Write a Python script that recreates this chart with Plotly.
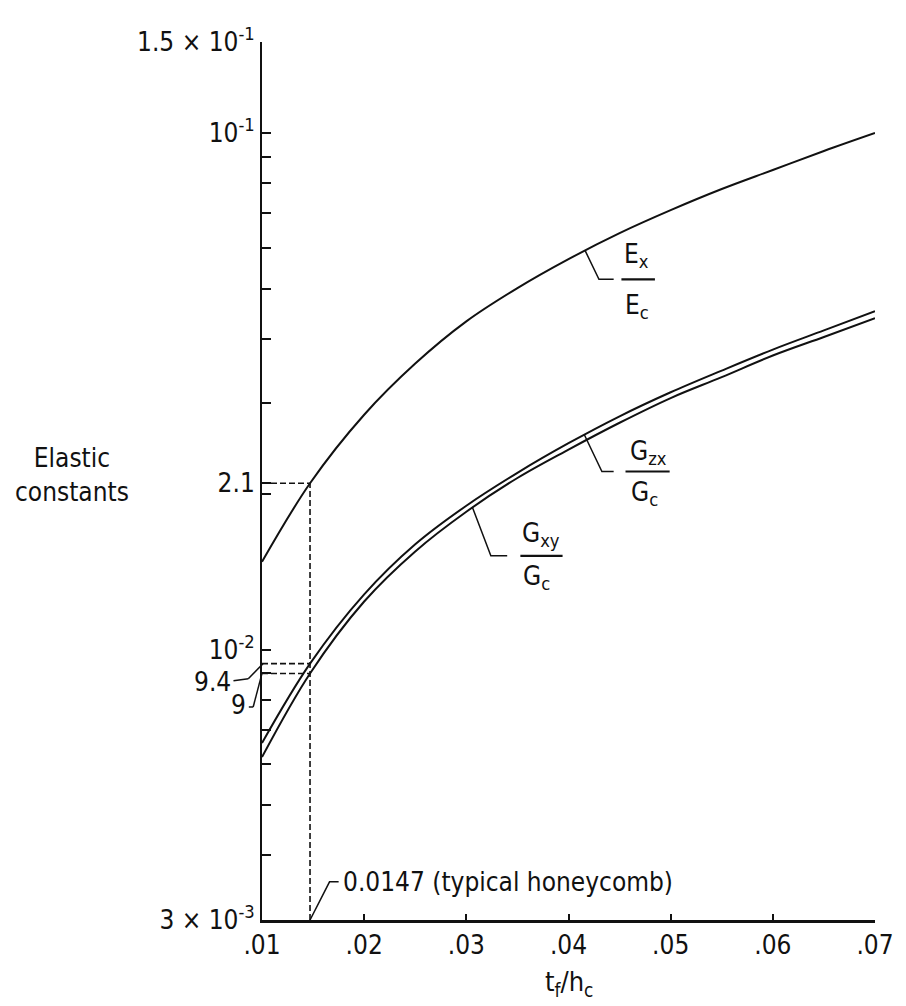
import numpy as np
import plotly.graph_objects as go

# ---- data ----
x_vals = [0.010, 0.0147, 0.020, 0.025, 0.030, 0.035, 0.040, 0.045, 0.050, 0.055, 0.060, 0.065, 0.070]
ex_ec = [0.0148, 0.0210, 0.0285, 0.0358, 0.0432, 0.0501, 0.0570, 0.0640, 0.0709, 0.0779, 0.0848, 0.0923, 0.1000]
gzx_gc = [0.0066, 0.0094, 0.0128, 0.0160, 0.0190, 0.0220, 0.0251, 0.0283, 0.0315, 0.0347, 0.0381, 0.0415, 0.0452]
gxy_gc = [0.0062, 0.0090, 0.0124, 0.0155, 0.0185, 0.0215, 0.0244, 0.0275, 0.0307, 0.0337, 0.0371, 0.0403, 0.0438]

typical_tf = 0.0147
marked_vals = [0.021, 0.0094, 0.009]

x_ticks = [0.01, 0.02, 0.03, 0.04, 0.05, 0.06, 0.07]
x_ticktext = [".01", ".02", ".03", ".04", ".05", ".06", ".07"]

y_ticks = [0.003, 0.004, 0.005, 0.006, 0.007, 0.008, 0.009, 0.01,
           0.02, 0.021, 0.03, 0.04, 0.05, 0.06, 0.07, 0.08, 0.09, 0.1, 0.15]
y_labels = {0.003: "3 × 10<sup>-3</sup>", 0.01: "10<sup>-2</sup>", 0.021: "2.1",
            0.1: "10<sup>-1</sup>", 0.15: "1.5 × 10<sup>-1</sup>"}
y_ticktext = [y_labels.get(v, "") for v in y_ticks]

FONT = "DejaVu Sans Condensed, Liberation Sans Narrow, DejaVu Sans, sans-serif"
BLACK = "#111111"

fig = go.Figure()

curve_style = dict(color=BLACK, width=2, shape="spline", smoothing=1.0)
fig.add_trace(go.Scatter(x=x_vals, y=ex_ec, mode="lines", line=curve_style))
fig.add_trace(go.Scatter(x=x_vals, y=gzx_gc, mode="lines", line=curve_style))
fig.add_trace(go.Scatter(x=x_vals, y=gxy_gc, mode="lines", line=curve_style))

dash_style = dict(color=BLACK, width=1.6, dash="6px,3px")
fig.add_trace(go.Scatter(x=[typical_tf, typical_tf], y=[0.003, marked_vals[0]],
                         mode="lines", line=dash_style))
for v in marked_vals:
    fig.add_trace(go.Scatter(x=[0.01, typical_tf], y=[v, v], mode="lines", line=dash_style))

lead = dict(color=BLACK, width=1.5)
bar = dict(color=BLACK, width=2.2)
# leaders and fraction bars of the curve labels
fig.add_trace(go.Scatter(x=[0.04163, 0.04298, 0.04442], y=[0.0592, 0.0521, 0.0521],
                         mode="lines", line=lead))
fig.add_trace(go.Scatter(x=[0.04518, 0.04846], y=[0.0521, 0.0521], mode="lines", line=bar))
fig.add_trace(go.Scatter(x=[0.04154, 0.04327, 0.04442], y=[0.0261, 0.02213, 0.02213],
                         mode="lines", line=lead))
fig.add_trace(go.Scatter(x=[0.04558, 0.0499], y=[0.02213, 0.02213], mode="lines", line=bar))
fig.add_trace(go.Scatter(x=[0.03058, 0.0324, 0.0340], y=[0.0189, 0.0152, 0.0152],
                         mode="lines", line=lead))
fig.add_trace(go.Scatter(x=[0.03529, 0.03942], y=[0.0152, 0.0152], mode="lines", line=bar))
# leader for typical honeycomb
fig.add_trace(go.Scatter(x=[typical_tf, 0.01661, 0.0175], y=[0.003, 0.003556, 0.003556],
                         mode="lines", line=lead))

shapes = []
for (x0, y0, x1, y1) in [(0.0016, 0.0094, -0.0224, 0.00879), (-0.0224, 0.00879, -0.0465, 0.00871),
                         (0.0, 0.009, -0.0144, 0.00775), (-0.0144, 0.00775, -0.0215, 0.00775)]:
    shapes.append(dict(type="line", xref="paper", yref="y", x0=x0, y0=y0, x1=x1, y1=y1,
                       line=dict(color=BLACK, width=1.5)))

annotations = []
def txt(text, x, y, xref="x", yref="y", xanchor="center", yanchor="middle", size=26):
    annotations.append(dict(text=text, x=x, y=y, xref=xref, yref=yref, showarrow=False,
                            xanchor=xanchor, yanchor=yanchor,
                            font=dict(family=FONT, size=size, color=BLACK)))

txt("E<sub>x</sub>", 0.04668, np.log10(0.0580))
txt("E<sub>c</sub>", 0.04668, np.log10(0.0462))
txt("G<sub>zx</sub>", 0.04779, -1.618)
txt("G<sub>c</sub>", 0.04740, -1.698)
txt("G<sub>xy</sub>", 0.03731, -1.777)
txt("G<sub>c</sub>", 0.03690, -1.861)
txt("0.0147 (typical honeycomb)", 0.0177, np.log10(0.003556), xanchor="left", size=26)
txt("9.4", -0.048, -2.062, xref="paper", xanchor="right", size=26)
txt("9", -0.0225, -2.1066, xref="paper", xanchor="right", size=26)
txt("Elastic<br>constants", -0.31, 0.507, xref="paper", yref="paper", size=26)
txt("t<sub>f</sub>/h<sub>c</sub>", 0.04, -0.072, yref="paper", size=27)

fig.update_layout(
    width=906, height=1006,
    margin=dict(l=262, r=19, t=42, b=86),
    paper_bgcolor="white", plot_bgcolor="white",
    showlegend=False,
    font=dict(family=FONT, size=26, color=BLACK),
    shapes=shapes, annotations=annotations,
)
fig.update_xaxes(
    range=[0.01, 0.07], tickvals=x_ticks, ticktext=x_ticktext,
    ticks="inside", ticklen=6, tickwidth=1.5, tickcolor=BLACK,
    showline=True, linecolor=BLACK, linewidth=2.5, showgrid=False, zeroline=False,
    tickfont=dict(family=FONT, size=26, color=BLACK),
)
fig.update_yaxes(
    type="log", range=[np.log10(0.003), np.log10(0.15)],
    tickvals=y_ticks, ticktext=y_ticktext,
    ticks="inside", ticklen=9, tickwidth=2, tickcolor=BLACK,
    showline=True, linecolor=BLACK, linewidth=2, showgrid=False, zeroline=False,
    tickfont=dict(family=FONT, size=26, color=BLACK),
)

fig.write_html("out.html")
